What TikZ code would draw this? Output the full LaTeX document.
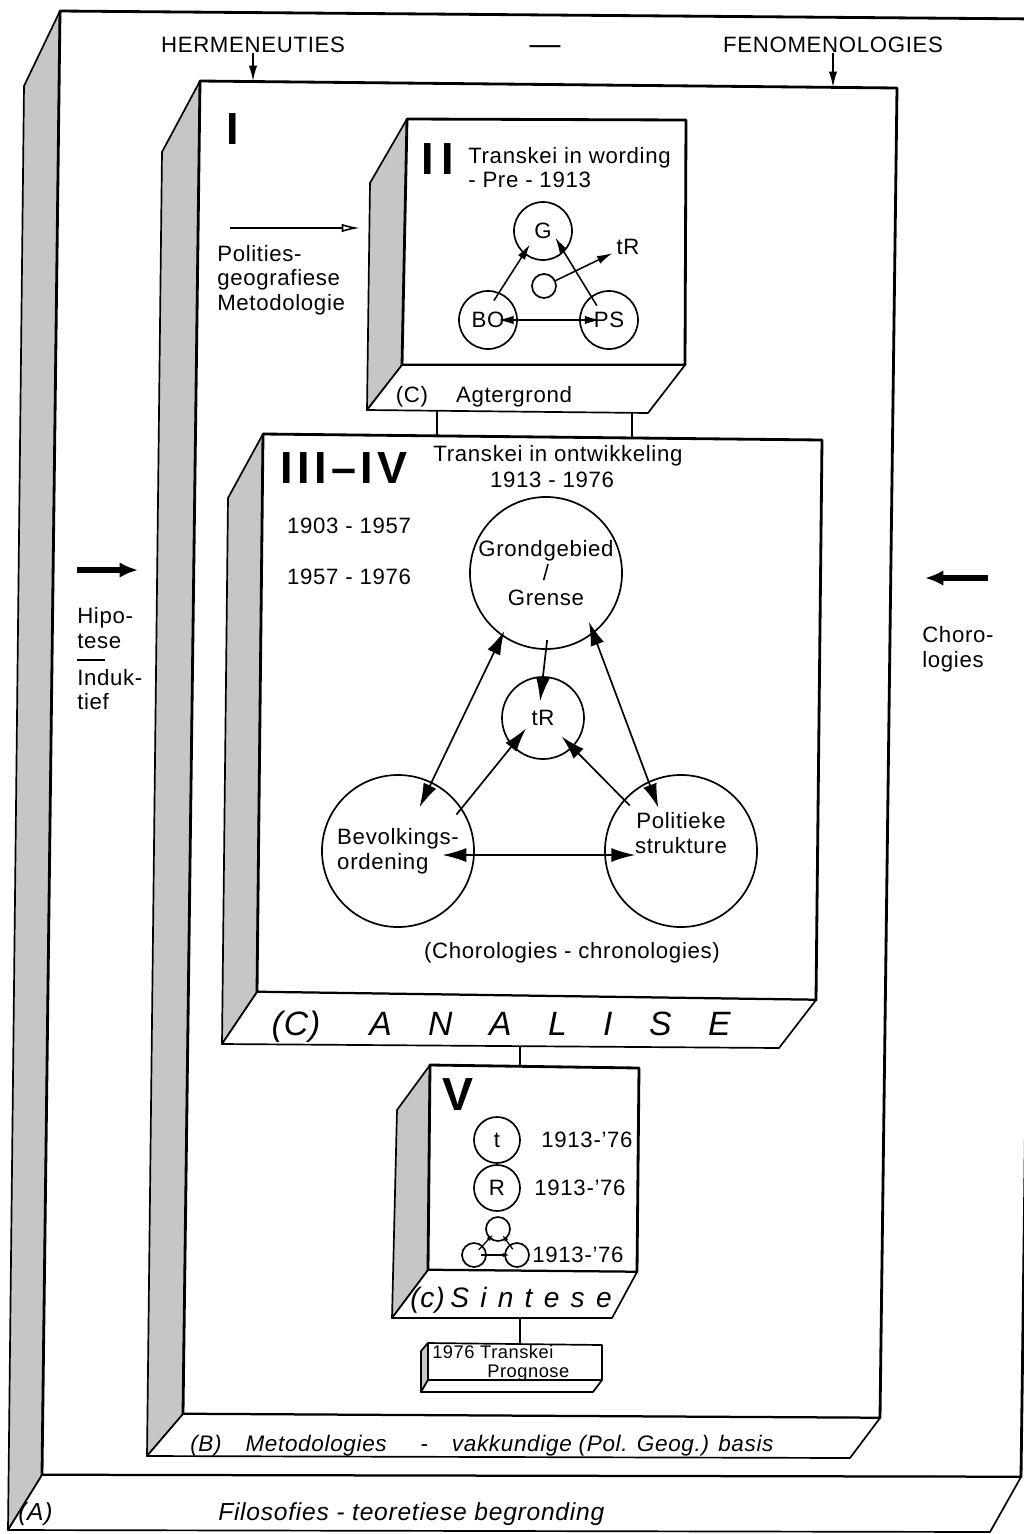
\documentclass[tikz,border=0pt]{standalone}
\usepackage{fontspec}
\setmainfont[LetterSpace=3]{Liberation Sans}
\usepackage{tikz}
\usetikzlibrary{arrows.meta, positioning}

\begin{document}
\begin{tikzpicture}[x=0.025cm, y=-0.025cm, node distance=1.28cm, >={Latex[length=17pt, width=10pt]}]
        \tikzstyle{face} = [draw=black, line width=2pt, fill=white, line join=round]
        \tikzstyle{side} = [draw=black, line width=1.2pt, fill=gray!45, line join=round]
        \tikzstyle{base} = [draw=black, line width=1.2pt, fill=white, line join=round]
        \tikzstyle{lbl} = [inner sep=0pt, font=\fontsize{15.8}{17.5}\selectfont]
        \tikzstyle{ital} = [inner sep=0pt, font=\itshape\fontsize{16}{19}\selectfont]
        \tikzstyle{numeral} = [inner sep=0pt, font=\bfseries\fontsize{32}{32}\selectfont\addfontfeatures{LetterSpace=10}]
        \tikzstyle{bigcircle} = [circle, draw=black, line width=1.2pt, minimum size=3.8cm, inner sep=0pt, align=center, font=\fontsize{15.8}{17.5}\selectfont]
        \tikzstyle{midcircle} = [bigcircle, minimum size=2.05cm]
        \tikzstyle{smallcircle} = [bigcircle, minimum size=1.45cm]
        \tikzstyle{vcircle} = [bigcircle, minimum size=1.15cm]
        \tikzstyle{dotcircle} = [bigcircle, minimum size=0.6cm]
        \tikzstyle{arrow} = [line width=1.2pt, ->]
        \tikzstyle{twoway} = [line width=1.2pt, <->]
        \tikzstyle{smallarrow} = [line width=1.1pt, ->, >={Latex[length=11pt, width=6pt]}]
        \tikzstyle{smalltwoway} = [smallarrow, <->]
        \tikzstyle{tinyarrow} = [line width=0.9pt, ->, >={Latex[length=5pt, width=3pt]}]
        \tikzstyle{fatarrow} = [line width=4.2pt, ->, >={Latex[length=13pt, width=11pt]}]
        \tikzstyle{openarrow} = [line width=1.1pt, ->, >={Latex[open, length=13pt, width=6pt]}]
        \tikzstyle{link} = [line width=1pt]

        \useasboundingbox (0,0) rectangle (1024,1534);
        \clip (0,0) rectangle (1024,1534);

        \draw [side] (60,11) -- (24,86) -- (8,1530) -- (42,1475) -- cycle;
        \draw [face] (60,11) -- (1040,19) -- (1021,1477) -- (42,1475) -- cycle;
        \draw [base] (42,1475) -- (1021,1477) -- (990,1532) -- (8,1530) -- cycle;

        \draw [side] (200,81) -- (162,152) -- (147,1456) -- (183,1414) -- cycle;
        \draw [face] (200,81) -- (897,88) -- (880,1418) -- (183,1414) -- cycle;
        \draw [base] (183,1414) -- (880,1418) -- (850,1458) -- (147,1456) -- cycle;

        \draw [side] (407,119) -- (370,183) -- (367,410) -- (402,365) -- cycle;
        \draw [face] (407,119) -- (686,120) -- (685,365) -- (402,365) -- cycle;
        \draw [base] (402,365) -- (685,365) -- (648,413) -- (367,410) -- cycle;

        \draw [side] (263,434) -- (228,498) -- (222,1044) -- (257,992) -- cycle;
        \draw [face] (263,434) -- (822,440) -- (816,1000) -- (257,992) -- cycle;
        \draw [base] (257,992) -- (816,1000) -- (779,1048) -- (222,1044) -- cycle;

        \draw [side] (430,1065) -- (397,1110) -- (392,1318) -- (428,1270) -- cycle;
        \draw [face] (430,1065) -- (639,1068) -- (637,1272) -- (428,1270) -- cycle;
        \draw [base] (428,1270) -- (637,1272) -- (612,1318) -- (392,1318) -- cycle;

        \draw [side] (428,1343) -- (421,1351) -- (421,1392) -- (428,1380) -- cycle;
        \draw [base] (428,1343) -- (602,1345) -- (602,1380) -- (428,1380) -- cycle;
        \draw [base] (428,1380) -- (602,1380) -- (593,1392) -- (421,1392) -- cycle;

        \coordinate (agtL) at (437,411);
        \coordinate (agtR) at (632,412);
        \coordinate (ontL) at (437,435);
        \coordinate (ontR) at (632,437);
        \coordinate (anaB) at (520,1046);
        \coordinate (sinT) at (520,1067);
        \coordinate (sinB) at (520,1318);
        \coordinate (proT) at (520,1344);
        \draw [link] (agtL) -- (ontL);
        \draw [link] (agtR) -- (ontR);
        \draw [link] (anaB) -- (sinT);
        \draw [link] (sinB) -- (proT);

        \node (herm) [lbl] at (253,45) {HERMENEUTIES};
        \node (streep) [lbl, font=\fontsize{22}{22}\selectfont] at (545,50) {—};
        \node (feno) [lbl] at (833,45) {FENOMENOLOGIES};
        \coordinate (hermT) at (253,81);
        \coordinate (fenoT) at (833,87);
        \draw [smallarrow] (herm) -- (hermT);
        \draw [smallarrow] (feno) -- (fenoT);

        \coordinate (hipA) at (77,570);
        \coordinate (hipB) at (138,570);
        \draw [fatarrow] (hipA) -- (hipB);
        \node (hipo) [lbl, align=left, anchor=north west] at (77,607) {Hipo-\\tese\\[7pt]\rlap{\raisebox{17pt}{\rule{20pt}{1.2pt}}}Induk-\\tief};

        \coordinate (chorA) at (988,578);
        \coordinate (chorB) at (925,578);
        \draw [fatarrow] (chorA) -- (chorB);
        \node (choro) [lbl, align=left, anchor=north west] at (922,626) {Choro-\\logies};

        \node (one) [numeral] at (233,129) {I};
        \coordinate (metA) at (230,228);
        \coordinate (metB) at (360,228);
        \draw [openarrow] (metA) -- (metB);
        \node (met) [lbl, align=left, anchor=north west] at (217,245) {Polities-\\geografiese\\Metodologie};

        \node (two) [numeral] at (438,159) {I\,I};
        \node (wording) [lbl, align=left, anchor=north west] at (468,147) {Transkei in wording\\- Pre - 1913};
        \node (g) [smallcircle] at (543,231) {G};
        \node (bo) [smallcircle] at (488,320) {BO};
        \node (ps) [smallcircle] at (609,320) {PS};
        \node (dot) [dotcircle] at (544,286) {};
        \node (trl) [lbl] at (628,247) {tR};
        \draw [smallarrow, shorten <=-7pt, shorten >=-8pt] (bo.68) -- (g.230);
        \draw [smallarrow, shorten <=-8pt, shorten >=-12pt] (ps.127) -- (g.-45);
        \draw [smallarrow, shorten >=3pt] (dot.25) -- (trl.200);
        \draw [smalltwoway, shorten <=-14pt, shorten >=-15pt] (bo.east) -- (ps.west);
        \node (agtc) [lbl, anchor=base] at (412,402) {(C)};
        \node (agt) [lbl, anchor=base] at (514,402) {Agtergrond};

        \node (three) [numeral, anchor=base west] at (280,483) {III--IV};
        \node (ontw) [lbl] at (558,456) {Transkei in ontwikkeling};
        \node (ontwy) [lbl] at (552,480) {1913 - 1976};
        \node (yr1) [lbl] at (349,526) {1903 - 1957};
        \node (yr2) [lbl, below of=yr1] {1957 - 1976};
        \node (grond) [bigcircle] at (546,573) {Grondgebied\\/\\Grense};
        \node (tr) [midcircle] at (543,718) {tR};
        \node (bev) [bigcircle, align=left] at (398,851) {Bevolkings-\\ordening};
        \node (pol) [bigcircle] at (681,851) {Politieke\\strukture\\[8pt]};
        \draw [arrow, shorten <=-7pt, shorten >=-18pt] (grond.south) -- (tr.north);
        \draw [twoway, shorten <=-4pt, shorten >=-20pt] (grond.235) -- (bev.64);
        \draw [twoway, shorten <=-9pt, shorten >=-20pt] (grond.-52) -- (pol.115);
        \draw [arrow, shorten <=-6pt, shorten >=-16pt] (bev.34) -- (tr.222);
        \draw [arrow, shorten <=-6pt, shorten >=-11pt] (pol.138) -- (tr.-45);
        \draw [twoway, shorten <=-23pt, shorten >=-22pt] (bev.-3) -- (pol.183);
        \node (chrono) [lbl] at (572,953) {(Chorologies - chronologies)};
        \node (anac) [ital, anchor=base, font=\itshape\fontsize{24}{24}\selectfont] at (296,1035) {(C)};
        \node (ana) [ital, anchor=base west, font=\itshape\fontsize{24}{24}\selectfont\addfontfeatures{LetterSpace=108}] at (369,1035) {ANALISE};

        \node (five) [numeral, font=\bfseries\fontsize{33}{33}\selectfont] at (458,1095) {V};
        \node (tt) [vcircle] at (497,1140) {t};
        \node (rr) [vcircle] at (497,1188) {R};
        \node (ty) [lbl] at (587,1140) {1913-'76};
        \node (ry) [lbl] at (580,1188) {1913-'76};
        \node (ta) [dotcircle] at (498,1229) {};
        \node (tb) [dotcircle] at (474,1255) {};
        \node (tc) [dotcircle] at (517,1255) {};
        \node (triy) [lbl] at (578,1255) {1913-'76};
        \draw [tinyarrow, shorten <=-4pt, shorten >=-4pt] (tb) -- (ta);
        \draw [tinyarrow, shorten <=-4pt, shorten >=-4pt] (tc) -- (ta);
        \draw [tinyarrow, shorten <=-4pt, shorten >=-4pt] (tb) -- (tc);
        \node (sint) [ital, anchor=base west, font=\itshape\fontsize{20}{20}\selectfont] at (410,1307) {(c)\hspace{0.2em}\addfontfeatures{LetterSpace=40}Sintese};

        \node (prog) [lbl, anchor=base west, font=\fontsize{13}{14}\selectfont] at (432,1358) {1976 Transkei};
        \node (prog2) [lbl, anchor=base west, font=\fontsize{13}{14}\selectfont] at (487,1377) {Prognose};

        \node (basisB) [ital, anchor=base west] at (190,1451) {(B)\hspace{17pt}Metodologies\hspace{24pt}-\hspace{17pt}vakkundige (Pol. Geog.) basis};
        \node (basisA) [ital, anchor=base west, font=\itshape\fontsize{17.5}{20}\selectfont] at (18,1520) {(A)};
        \node (filo) [ital, anchor=base west, font=\itshape\fontsize{17.5}{20}\selectfont] at (218,1520) {Filosofies - teoretiese begronding};
    \end{tikzpicture}
\end{document}
